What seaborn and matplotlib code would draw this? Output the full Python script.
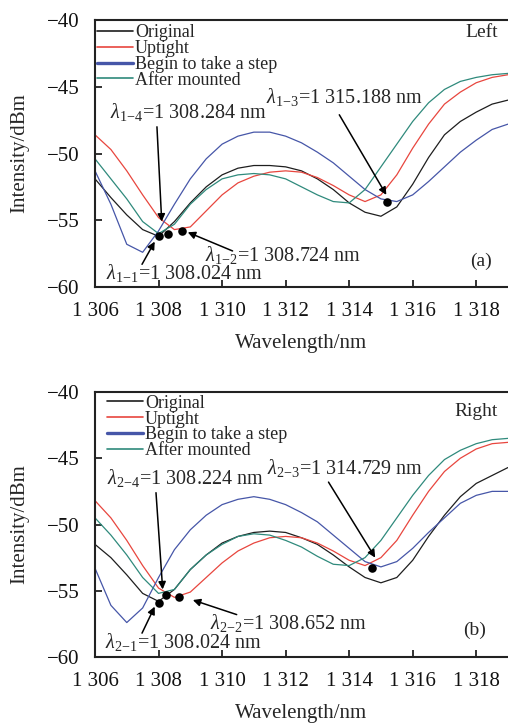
import numpy as np
import pandas as pd
import matplotlib
matplotlib.use("Agg")
import matplotlib.pyplot as plt
import seaborn as sns
from matplotlib.lines import Line2D
from matplotlib.ticker import FuncFormatter

# ---------------------------------------------------------------- data
wavelength = [1306.0, 1306.5, 1307.0, 1307.5, 1308.0, 1308.5, 1309.0, 1309.5,
              1310.0, 1310.5, 1311.0, 1311.5, 1312.0, 1312.5, 1313.0, 1313.5,
              1314.0, 1314.5, 1315.0, 1315.5, 1316.0, 1316.5, 1317.0, 1317.5,
              1318.0, 1318.5, 1319.0]

series_names = ["Original", "Uptight", "Begin to take a step", "After mounted"]

# Left foot sensor spectra (dBm)
left_original = [-51.9, -53.3, -54.6, -55.7, -56.2, -55.1, -53.7, -52.5, -51.6,
                 -51.1, -50.9, -50.9, -51.0, -51.3, -51.9, -52.7, -53.7, -54.4,
                 -54.7, -54.0, -52.3, -50.3, -48.6, -47.6, -46.9, -46.3, -46.0]
left_uptight = [-48.6, -49.7, -51.3, -53.1, -54.8, -55.7, -55.5, -54.3, -53.1,
                -52.2, -51.7, -51.4, -51.3, -51.4, -51.8, -52.4, -53.1, -53.6,
                -53.1, -51.6, -49.6, -47.8, -46.3, -45.4, -44.7, -44.3, -44.1]
left_step = [-51.3, -53.8, -56.8, -57.4, -55.8, -53.8, -51.9, -50.4, -49.3,
             -48.7, -48.4, -48.4, -48.7, -49.2, -49.9, -50.7, -51.7, -52.7,
             -53.4, -53.6, -53.1, -52.1, -51.0, -49.9, -49.0, -48.2, -47.8]
left_mounted = [-50.4, -51.9, -53.4, -55.1, -56.0, -55.3, -53.8, -52.7, -51.9,
                -51.6, -51.5, -51.6, -51.9, -52.5, -53.1, -53.6, -53.7, -52.7,
                -51.0, -49.3, -47.6, -46.2, -45.2, -44.6, -44.3, -44.1, -44.0]

# Right foot sensor spectra (dBm)
right_original = [-51.5, -52.5, -53.8, -55.2, -55.8, -54.9, -53.4, -52.3, -51.4,
                  -50.9, -50.6, -50.5, -50.6, -51.0, -51.5, -52.3, -53.2, -54.0,
                  -54.4, -54.0, -52.7, -50.9, -49.3, -47.9, -46.9, -46.3, -45.7]
right_uptight = [-48.2, -49.5, -51.2, -53.1, -54.8, -55.5, -55.1, -54.0, -52.9,
                 -52.0, -51.4, -51.0, -50.9, -51.0, -51.4, -52.0, -52.7, -53.1,
                 -52.5, -51.2, -49.3, -47.5, -46.0, -45.0, -44.3, -43.9, -43.8]
right_step = [-53.3, -56.1, -57.4, -56.3, -54.0, -51.9, -50.4, -49.3, -48.5,
              -48.1, -47.9, -48.1, -48.5, -49.1, -49.8, -50.8, -51.8, -52.8,
              -53.2, -52.8, -51.8, -50.6, -49.5, -48.4, -47.8, -47.5, -47.5]
right_mounted = [-49.5, -50.8, -52.3, -54.0, -55.2, -54.9, -53.4, -52.3, -51.5,
                 -50.9, -50.7, -50.8, -51.2, -51.7, -52.4, -53.0, -53.1, -52.5,
                 -51.2, -49.5, -47.8, -46.3, -45.1, -44.4, -43.9, -43.6, -43.5]

# Tracked dip wavelengths (nm) and their intensities (dBm), index 1..4
left_dip_wl = [1308.024, 1308.724, 1315.188, 1308.284]
left_dip_int = [-56.2, -55.8, -53.6, -56.0]
right_dip_wl = [1308.024, 1308.652, 1314.729, 1308.224]
right_dip_int = [-55.9, -55.5, -53.3, -55.3]

x_ticks = [1306, 1308, 1310, 1312, 1314, 1316, 1318]
y_ticks = [-60, -55, -50, -45, -40]

# ---------------------------------------------------------------- style
colors = ["#1e1e1e", "#e8463e", "#4656a8", "#2f8a7c"]
palette = dict(zip(series_names, colors))

sns.set_style("ticks")
plt.rcParams["font.family"] = ["Liberation Serif", "DejaVu Serif"]
plt.rcParams["mathtext.fontset"] = "custom"
plt.rcParams["mathtext.rm"] = "Liberation Serif"
plt.rcParams["mathtext.it"] = "Liberation Serif:italic"
plt.rcParams["axes.unicode_minus"] = True

TICK_FS = 15
LABEL_FS = 14.5
LEG_FS = 13


def spaced(v, decimals=0):
    return f"{v:,.{decimals}f}".replace(",", " ")


def long_frame(curves):
    rows = []
    for name, vals in zip(series_names, curves):
        for w, v in zip(wavelength, vals):
            rows.append({"Wavelength": w, "Intensity": v, "Series": name})
    return pd.DataFrame(rows)


def draw_panel(ax, curves, dip_wl, dip_int, side_no, side_text, tag,
               placements, legend_anchor, side_pos, tag_pos):
    df = long_frame(curves)
    sns.lineplot(data=df, x="Wavelength", y="Intensity", hue="Series",
                 hue_order=series_names, palette=palette, estimator=None,
                 sort=True, linewidth=0.9, legend=False, ax=ax)

    ax.set_xlim(1306, 1319)
    ax.set_ylim(-60, -40)
    ax.set_xticks(x_ticks)
    ax.set_yticks(y_ticks)
    ax.xaxis.set_major_formatter(FuncFormatter(lambda v, p: spaced(v)))
    ax.tick_params(direction="in", length=5, width=1.2, pad=11,
                   labelsize=TICK_FS, colors="#111111")
    for s in ["left", "bottom", "top"]:
        ax.spines[s].set_linewidth(1.5)
        ax.spines[s].set_color("#222222")
    ax.spines["right"].set_visible(False)
    ax.set_xlabel("Wavelength/nm", fontsize=15, labelpad=9)
    ax.set_ylabel("Intensity/dBm", fontsize=15, labelpad=13)

    # dip markers
    sns.scatterplot(x=dip_wl, y=dip_int, color="black", s=38, zorder=5,
                    edgecolor="black", linewidth=0, ax=ax, legend=False)

    # dip labels with arrows
    for i, (text_xy, start, tip) in enumerate(placements):
        label = (rf"$\lambda_{{{side_no}\!-\!{i + 1}}}$"
                 f"=1 {spaced(dip_wl[i], 3)[2:]} nm")
        ax.text(text_xy[0], text_xy[1], label, fontsize=LABEL_FS,
                ha="left", va="center", zorder=6)
        ax.annotate("", xy=tip, xytext=start,
                    arrowprops=dict(arrowstyle="-|>", color="black", lw=1.1,
                                    mutation_scale=11, shrinkA=0, shrinkB=0),
                    zorder=6)

    ax.text(side_pos[0], side_pos[1], side_text, fontsize=14,
            ha="right", va="center")
    ax.text(tag_pos[0], tag_pos[1], tag, fontsize=14, ha="center", va="center")

    handles = [Line2D([], [], color=c, lw=(2.4 if n == "Begin to take a step" else 1.2))
               for n, c in zip(series_names, colors)]
    ax.legend(handles, series_names, loc="upper left",
              bbox_to_anchor=legend_anchor, frameon=False, fontsize=LEG_FS,
              handlelength=2.0, handletextpad=0.1, labelspacing=-0.06,
              borderaxespad=0, borderpad=0)


fig = plt.figure(figsize=(5.08, 7.24), dpi=100)
ax_top = fig.add_axes([95 / 508, 1 - 287 / 724, 413 / 508, 267 / 724])
ax_bot = fig.add_axes([95 / 508, 1 - 657 / 724, 413 / 508, 265 / 724])

# (text position, arrow start, arrow tip) for dips 1..4
left_place = [
    ((1306.35, -58.95), (1307.48, -58.3), (1307.88, -56.6)),
    ((1309.45, -57.6), (1310.33, -57.3), (1308.92, -55.9)),
    ((1311.37, -45.75), (1313.69, -47.1), (1315.17, -53.1)),
    ((1306.47, -46.9), (1307.95, -48.0), (1308.1, -55.1)),
]
right_place = [
    ((1306.31, -58.9), (1307.48, -58.2), (1307.88, -56.2)),
    ((1309.61, -57.4), (1310.46, -56.8), (1309.08, -55.7)),
    ((1311.4, -45.7), (1313.35, -46.8), (1314.82, -52.5)),
    ((1306.38, -46.5), (1307.92, -47.6), (1308.13, -54.9)),
]

draw_panel(ax_top, [left_original, left_uptight, left_step, left_mounted],
           left_dip_wl, left_dip_int, 1, "Left", "(a)", left_place,
           (0.005, 0.985), (1318.68, -40.97), (1318.15, -58.06))
draw_panel(ax_bot, [right_original, right_uptight, right_step, right_mounted],
           right_dip_wl, right_dip_int, 2, "Right", "(b)", right_place,
           (0.029, 0.99), (1318.68, -41.5), (1317.96, -58.0))

fig.savefig("out.png", dpi=100)
